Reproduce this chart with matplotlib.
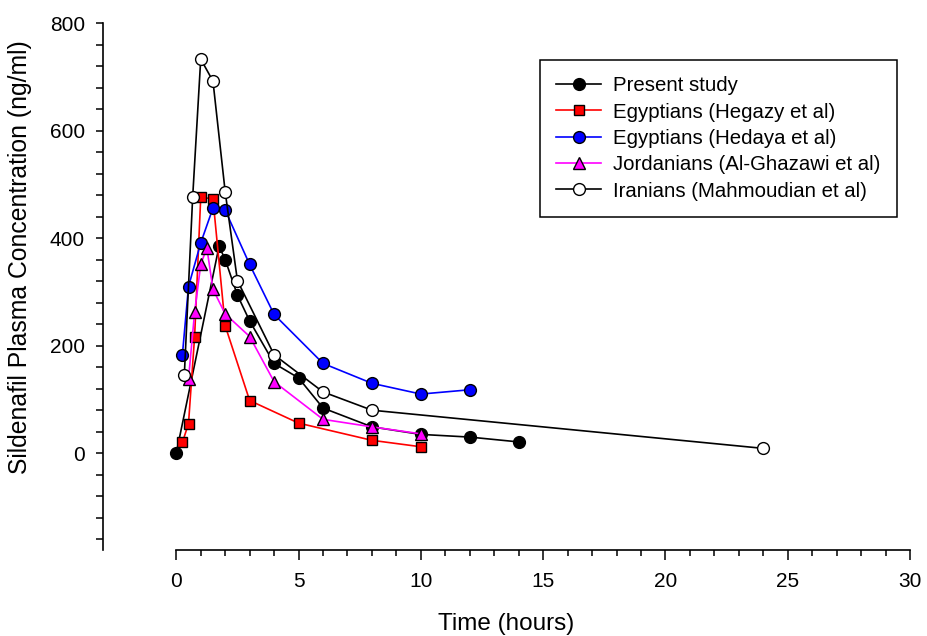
import matplotlib.pyplot as plt
from matplotlib.ticker import MultipleLocator, FixedLocator

plt.rcParams['font.family'] = ['Liberation Sans', 'DejaVu Sans']

# sildenafil plasma profiles (time in hours, concentration in ng/ml)
present_t = [0, 1.75, 2, 2.5, 3, 4, 5, 6, 8, 10, 12, 14]
present_c = [0, 385, 360, 294, 246, 167, 140, 84, 49, 35, 30, 21]

hegazy_t = [0.25, 0.5, 0.75, 1, 1.5, 2, 3, 5, 8, 10]
hegazy_c = [20, 55, 217, 476, 473, 237, 98, 56, 24, 12]

hedaya_t = [0.25, 0.5, 1, 1.5, 2, 3, 4, 6, 8, 10, 12]
hedaya_c = [183, 310, 391, 456, 452, 351, 258, 167, 130, 110, 118]

jordan_t = [0.5, 0.75, 1, 1.25, 1.5, 2, 3, 4, 6, 8, 10]
jordan_c = [138, 262, 351, 382, 305, 259, 217, 133, 63, 49, 36]

iran_t = [0.33, 0.67, 1, 1.5, 2, 2.5, 4, 6, 8, 24]
iran_c = [146, 476, 733, 692, 486, 321, 183, 114, 80, 9]

fig = plt.figure(figsize=(9.27, 6.36), dpi=100)
ax = fig.add_axes([0.111, 0.1352, 0.8707, 0.8286])

ax.plot(present_t, present_c, color='black', lw=1.2, marker='o', ms=8.5,
        mfc='black', mec='black', mew=1, label='Present study', zorder=3)
ax.plot(hegazy_t, hegazy_c, color='#ff0000', lw=1.2, marker='s', ms=7.5,
        mfc='#ff0000', mec='black', mew=1, label='Egyptians (Hegazy et al)', zorder=4)
ax.plot(hedaya_t, hedaya_c, color='#0000ff', lw=1.2, marker='o', ms=8.5,
        mfc='#0000ff', mec='black', mew=1, label='Egyptians (Hedaya et al)', zorder=5)
ax.plot(jordan_t, jordan_c, color='#ff00ff', lw=1.2, marker='^', ms=8.5,
        mfc='#ff00ff', mec='black', mew=1, label='Jordanians (Al-Ghazawi et al)', zorder=6)
ax.plot(iran_t, iran_c, color='black', lw=1.2, marker='o', ms=8.5,
        mfc='white', mec='black', mew=1, label='Iranians (Mahmoudian et al)', zorder=7)

ax.set_xlim(-3, 30)
ax.set_ylim(-180, 800)

ax.spines['top'].set_visible(False)
ax.spines['right'].set_visible(False)
ax.spines['bottom'].set_bounds(0, 30)
ax.spines['left'].set_bounds(-180, 800)
for s in ('left', 'bottom'):
    ax.spines[s].set_linewidth(1.2)

# x ticks only along the drawn part of the axis (0..30 h)
ax.xaxis.set_major_locator(FixedLocator([0, 5, 10, 15, 20, 25, 30]))
ax.xaxis.set_minor_locator(FixedLocator([h for h in range(31) if h % 5]))
ax.yaxis.set_major_locator(FixedLocator([0, 200, 400, 600, 800]))
ax.yaxis.set_minor_locator(MultipleLocator(40))

ax.tick_params(axis='x', which='major', length=7, width=1.1, labelsize=15, pad=9)
ax.tick_params(axis='x', which='minor', length=4, width=1.1)
ax.tick_params(axis='y', which='major', length=5, width=1.1, labelsize=15, pad=8)
ax.tick_params(axis='y', which='minor', length=5, width=1.1)

ax.set_xlabel('Time (hours)', fontsize=17.5, labelpad=16)
ax.set_ylabel('Sildenafil Plasma Concentration (ng/ml)', fontsize=17.8)
ax.yaxis.set_label_coords(-0.088, 0.556)

leg = ax.legend(loc='upper right', bbox_to_anchor=(0.984, 0.93), fontsize=14.7,
                frameon=True, fancybox=False, edgecolor='black', framealpha=1,
                handlelength=2.2, handletextpad=0.6, labelspacing=0.36,
                borderpad=0.8, borderaxespad=0)
leg.get_frame().set_linewidth(1.1)

fig.savefig('out.png', dpi=100)
